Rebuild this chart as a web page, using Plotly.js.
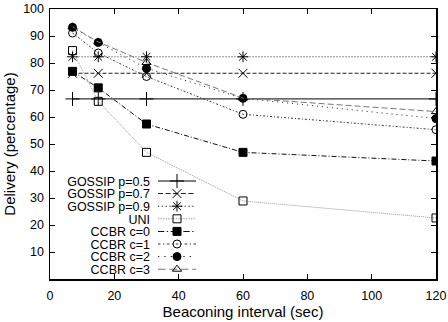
<!DOCTYPE html>
<html>
<head>
<meta charset="utf-8">
<script src="https://cdn.plot.ly/plotly-3.0.1.min.js"></script>
<style>html,body{margin:0;padding:0;background:#fff;}#chart{width:448px;height:322px;}</style>
</head>
<body>
<div id="chart"></div>
<script>
var intervals = [7, 15, 30, 60, 120];
var gossip05 = [66.7, 66.7, 66.7, 66.7, 66.7];
var gossip07 = [76.2, 76.2, 76.2, 76.2, 76.2];
var gossip09 = [82.3, 82.3, 82.3, 82.3, 82.3];
var uni      = [84.6, 65.8, 46.9, 28.9, 22.6];
var ccbr0    = [76.9, 70.8, 57.4, 46.9, 43.7];
var ccbr1    = [91.1, 83.7, 75.0, 61.0, 55.3];
var ccbr2    = [93.2, 87.6, 78.0, 66.9, 59.4];
var ccbr3    = [93.4, 87.8, 80.2, 67.0, 62.0];
var xTicks = [0, 20, 40, 60, 80, 100, 120];
var yTicks = [10, 20, 30, 40, 50, 60, 70, 80, 90, 100];

function tr(name, y, sym, dash, lineColor, msize) {
  return {
    x: intervals, y: y, name: name, type: 'scatter', mode: 'lines+markers',
    line: {color: lineColor, width: 1, dash: dash},
    marker: {symbol: sym, size: msize || 8, color: '#000', line: {color: '#000', width: 1}}
  };
}
var data = [
  tr('GOSSIP p=0.5', gossip05, 'cross-thin-open', 'solid', '#000', 10),
  tr('GOSSIP p=0.7', gossip07, 'x-thin-open', '4px,2px', '#222', 9),
  tr('GOSSIP p=0.9', gossip09, 'asterisk-open', '1px,2px', '#222', 9),
  tr('UNI', uni, 'square-open', '1px,1px', '#999', 8),
  tr('CCBR c=0', ccbr0, 'square', '5px,2px,1px,2px', '#111', 8),
  tr('CCBR c=1', ccbr1, 'circle-open', '2px,2px,1px,2px', '#333', 8),
  tr('CCBR c=2', ccbr2, 'circle', '1px,4px', '#222', 8),
  tr('CCBR c=3', ccbr3, 'triangle-up-open', '6px,3px', '#777', 8)
];
var fam = 'Liberation Sans, Arial, sans-serif';
var layout = {
  width: 448, height: 322,
  margin: {l: 50, r: 12, t: 9, b: 43},
  paper_bgcolor: '#fff', plot_bgcolor: '#fff',
  font: {family: fam, color: '#000', size: 12},
  showlegend: true,
  legend: {x: 0.026, y: 0.02, xanchor: 'left', yanchor: 'bottom', bgcolor: 'rgba(0,0,0,0)',
           font: {family: fam, size: 12.5, color: '#000'}, tracegroupgap: 0, itemwidth: 30},
  xaxis: {
    range: [0, 120], tickvals: xTicks, ticktext: xTicks.map(String),
    ticks: 'inside', ticklen: 5, tickcolor: '#000', showline: true, linecolor: '#000', linewidth: 1.5,
    mirror: 'ticks', showgrid: false, zeroline: false, ticklabelstandoff: 4,
    title: {text: 'Beaconing interval (sec)', font: {family: fam, size: 15}, standoff: 2},
    tickfont: {family: fam, size: 12.5}
  },
  yaxis: {
    range: [0, 100], tickvals: yTicks, ticktext: yTicks.map(String),
    ticks: 'inside', ticklen: 5, tickcolor: '#000', showline: true, linecolor: '#000', linewidth: 1.5,
    mirror: 'ticks', showgrid: false, zeroline: false, ticklabelstandoff: 2,
    title: {text: 'Delivery (percentage)', font: {family: fam, size: 15}, standoff: 4},
    tickfont: {family: fam, size: 12.5}
  }
};
Plotly.newPlot('chart', data, layout, {staticPlot: true, displayModeBar: false}).then(function (gd) {
  // gnuplot-style key: label right-aligned on the left, sample on the right
  var leg = gd.querySelector('g.legend');
  if (!leg) return;
  var sb = leg.querySelector('g.scrollbox');
  if (sb) sb.removeAttribute('clip-path');
  var svg = gd.querySelector('svg.main-svg');
  var sm = svg.getScreenCTM();
  var items = leg.querySelectorAll('g.traces');
  var rowTop = 181, rowStep = 12.6, textRight = 150, symCenter = 177;
  items.forEach(function (it, i) {
    var pm = it.parentNode.getScreenCTM();
    var ox = pm.e - sm.e, oy = pm.f - sm.f;
    it.setAttribute('transform', 'translate(0,' + (rowTop + i * rowStep - oy) + ')');
    var t = it.querySelector('text.legendtext');
    if (t) { t.setAttribute('x', textRight - ox); t.setAttribute('text-anchor', 'end'); t.style.textAnchor = 'end'; }
    var ly = it.querySelector('g.layers');
    if (ly) ly.setAttribute('transform', 'translate(' + (symCenter - 20 - ox) + ',0)');
    var ll = it.querySelector('g.legendlines');
    if (ll) ll.setAttribute('transform', 'translate(20,0) scale(1.27,1) translate(-20,0)');
  });
});
</script>
</body>
</html>
